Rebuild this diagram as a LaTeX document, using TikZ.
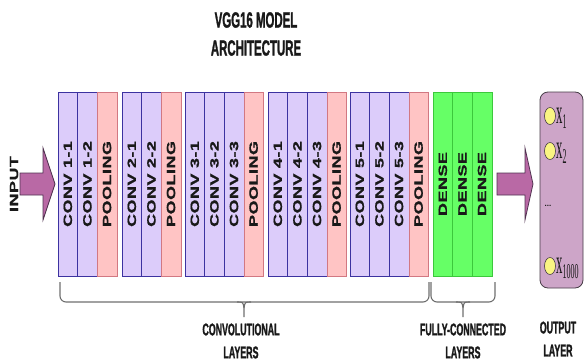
\documentclass[tikz,border=0pt]{standalone}
\usepackage{fontspec}
\setmainfont{Liberation Sans}
\newfontfamily\widef[FakeStretch=1.5,LetterSpace=4,FakeBold=1]{Liberation Sans}
\newfontfamily\narrowf[FakeStretch=0.52,FakeBold=1.2]{Liberation Sans}
\newfontfamily\seriff{Liberation Serif}
\usetikzlibrary{shapes.geometric}
\definecolor{convfill}{RGB}{220,204,250}
\definecolor{convline}{RGB}{60,50,160}
\definecolor{poolfill}{RGB}{255,196,196}
\definecolor{poolline}{RGB}{210,120,130}
\definecolor{densefill}{RGB}{102,255,102}
\definecolor{denseline}{RGB}{60,200,60}
\definecolor{arrowfill}{RGB}{185,105,165}
\definecolor{arrowline}{RGB}{80,50,80}
\definecolor{outfill}{RGB}{205,165,200}
\definecolor{outline}{RGB}{70,60,70}
\definecolor{dotfill}{RGB}{250,245,130}
\definecolor{bracecol}{RGB}{110,110,110}
\definecolor{txt}{RGB}{25,25,25}
\tikzset{
  col/.style={rotate=90, minimum width=184pt, minimum height=19.6pt, inner sep=0pt,
    line width=0.6pt, text=txt, font=\widef\bfseries\fontsize{12}{12}\selectfont},
  convcol/.style={col, draw=convline, fill=convfill},
  poolcol/.style={col, draw=poolline, fill=poolfill},
  densecol/.style={col, draw=denseline, fill=densefill},
  bigarrow/.style={draw=arrowline, fill=arrowfill, line width=0.8pt, line join=miter},
  bracestyle/.style={draw=bracecol, line width=1.1pt},
  grouplabel/.style={align=center, text=txt, font=\narrowf\bfseries\fontsize{17}{23}\selectfont},
  titlestyle/.style={align=center, text=txt, font=\narrowf\bfseries\fontsize{22}{28}\selectfont},
  outdot/.style={ellipse, draw=outline, fill=dotfill, line width=0.6pt, minimum width=11pt, minimum height=17pt, inner sep=0pt},
  xlab/.style={anchor=base west, inner sep=0pt, text=txt, font=\seriff}
}
\newcommand{\xsub}[1]{\scalebox{0.8}[2.1]{\fontsize{16}{16}\selectfont x\raisebox{-2.5pt}{\fontsize{10}{10}\selectfont #1}}}
\begin{document}
\begin{tikzpicture}[x=1pt,y=-1pt]
\useasboundingbox (0,0) rectangle (584,364);
% title
\node[titlestyle] (title) at (256,34) {VGG16 MODEL\\ARCHITECTURE};
% input arrow
\draw[bigarrow] (20,173) -- (43,173) -- (43,148) -- (55,184) -- (43,220) -- (43,195) -- (20,195) -- cycle;
\node[rotate=90, text=txt, font=\widef\bfseries\fontsize{12}{12}\selectfont] (input) at (14,184) {INPUT};
% block 1
\node[convcol] (c11) at (67.8,184) {CONV 1-1};
\node[convcol] (c12) at (87.4,184) {CONV 1-2};
\node[poolcol] (p1) at (107.0,184) {POOLING};
% block 2
\node[convcol] (c21) at (131.8,184) {CONV 2-1};
\node[convcol] (c22) at (151.4,184) {CONV 2-2};
\node[poolcol] (p2) at (171.0,184) {POOLING};
% block 3
\node[convcol] (c31) at (194.8,184) {CONV 3-1};
\node[convcol] (c32) at (214.4,184) {CONV 3-2};
\node[convcol] (c33) at (234.0,184) {CONV 3-3};
\node[poolcol] (p3) at (253.6,184) {POOLING};
% block 4
\node[convcol] (c41) at (277.8,184) {CONV 4-1};
\node[convcol] (c42) at (297.4,184) {CONV 4-2};
\node[convcol] (c43) at (317.0,184) {CONV 4-3};
\node[poolcol] (p4) at (336.6,184) {POOLING};
% block 5
\node[convcol] (c51) at (359.8,184) {CONV 5-1};
\node[convcol] (c52) at (379.4,184) {CONV 5-2};
\node[convcol] (c53) at (399.0,184) {CONV 5-3};
\node[poolcol] (p5) at (418.6,184) {POOLING};
% dense
\node[densecol] (d1) at (442.8,184) {DENSE};
\node[densecol] (d2) at (462.4,184) {DENSE};
\node[densecol] (d3) at (482.0,184) {DENSE};
% output arrow
\draw[bigarrow] (497,173) -- (525,173) -- (525,148) -- (533,184) -- (525,220) -- (525,195) -- (497,195) -- cycle;
% output box
\draw[draw=outline, fill=outfill, line width=0.8pt, rounded corners=8pt] (540,92) rectangle (583,288);
\node[outdot] (o1) at (550,116) {};
\node[outdot] (o2) at (550,151) {};
\node[outdot] (o3) at (550,266) {};
\node[xlab] (l1) at (556,123) {\xsub{1}};
\node[xlab] (l2) at (556,158) {\xsub{2}};
\node[xlab] (l3) at (556,273) {\xsub{1000}};
\node[text=txt, inner sep=0pt, font=\fontsize{8}{8}\selectfont\bfseries] (dots) at (548,206) {...};
% braces
\draw[bracestyle, rounded corners=6pt] (60,282) -- (60,302) -- (429,302) -- (429,282);
\draw[bracestyle] (237,302) .. controls (243,302) .. (244,308) -- (244,317);
\draw[bracestyle] (251,302) .. controls (245,302) .. (244,308);
\draw[bracestyle, rounded corners=6pt] (431,282) -- (431,302) -- (495,302) -- (495,282);
\draw[bracestyle] (456,302) .. controls (462,302) .. (463,308) -- (463,317);
\draw[bracestyle] (470,302) .. controls (464,302) .. (463,308);
% labels
\node[grouplabel] (convlab) at (241,341) {CONVOLUTIONAL\\LAYERS};
\node[grouplabel] (fclab) at (463,341) {FULLY-CONNECTED\\LAYERS};
\node[grouplabel] (outlab) at (558,339) {OUTPUT\\LAYER};
\end{tikzpicture}
\end{document}
